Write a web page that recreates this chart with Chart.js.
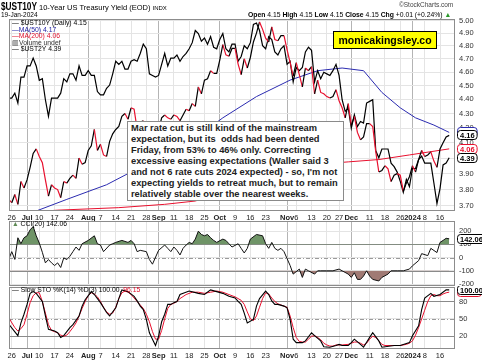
<!DOCTYPE html>
<html>
<head>
<meta charset="utf-8">
<script src="https://cdn.jsdelivr.net/npm/chart.js@4.4.1/dist/chart.umd.min.js"></script>
<style>
  body { margin: 0; width: 482px; height: 362px; overflow: hidden; position: relative; background: #fff;
         font-family: "Liberation Sans", Arial, sans-serif; }
  canvas { position: absolute; left: 0; }
  .t { position: absolute; white-space: nowrap; color: #000; line-height: 1; }
  .note { position: absolute; left: 127px; top: 121px; width: 217px; height: 80px; background: #fff;
          border: 1px solid #8a8a8a; font: bold 9.3px/11px "Liberation Sans", Arial, sans-serif; color: #222;
          padding: 1px 0 0 3px; box-sizing: border-box; white-space: nowrap; }
  .brand { position: absolute; left: 333px; top: 31px; width: 104px; height: 18px; background: #ffff00;
           border: 1px solid #000; box-sizing: border-box; font: bold 10.5px/16px "Liberation Sans", Arial, sans-serif;
           text-align: center; }
</style>
</head>
<body>
<canvas id="main" width="482" height="224" style="top:0"></canvas>
<canvas id="cci" width="482" height="66" style="top:220px"></canvas>
<canvas id="sto" width="482" height="76" style="top:286px"></canvas>

<div class="t" style="left:1px;top:1.5px;font-size:10px;font-weight:bold;transform:scaleX(0.83);transform-origin:0 0">$UST10Y</div>
<div class="t" style="left:39px;top:3.5px;font-size:7.5px">10-Year US Treasury Yield (EOD) <span style="font-size:6px">INDX</span></div>
<div class="t" style="left:1px;top:12px;font-size:6.5px">19-Jan-2024</div>
<div class="t" style="left:399px;top:2px;font-size:6.5px;color:#444">&copy;StockCharts.com</div>
<div class="t" style="left:248px;top:12px;font-size:6.8px"><b>Open</b> 4.15 <b>High</b> 4.15 <b>Low</b> 4.15 <b>Close</b> 4.15 <b>Chg</b> +0.01 (+0.24%) <span style="color:#2a9a2a">&#9650;</span></div>

<div class="t" style="left:12px;top:20px;font-size:6.8px">&mdash; $UST10Y (Daily) 4.15</div>
<div class="t" style="left:12px;top:26.5px;font-size:6.8px;color:#1c1ca0">&mdash;MA(50) 4.17</div>
<div class="t" style="left:12px;top:33px;font-size:6.8px;color:#e0102c">&mdash;MA(200) 4.06</div>
<div class="t" style="left:12px;top:39.5px;font-size:6.8px;color:#333">&#9637;Volume undef</div>
<div class="t" style="left:12px;top:46px;font-size:6.8px">&mdash; $UST2Y 4.39</div>

<div class="brand">monicakingsley.co</div>
<div class="note">Mar rate cut is still kind of the mainstream<br>expectation, but its&nbsp; odds had been dented<br>Friday, from 53% to 46% only. Correcting<br>excessive easing expectations (Waller said 3<br>and not 6 rate cuts 2024 expected) - so, I'm not<br>expecting yields to retreat much, but to remain<br>relatively stable over the nearest weeks.</div>

<div class="t" style="left:12px;top:221px;font-size:6.8px"><span style="color:#5f8a55">&#9650;</span> CCI(20) 142.06</div>
<div class="t" style="left:12px;top:287px;font-size:6.8px">&mdash; Slow STO %K(14) %D(3) 100.00, <span style="color:#e0102c">96.15</span></div>

<script>
// trading-day index: 0 = Jul 3 2023, first point = Jun 23 (-6), last = Jan 19 2024 (138)
const firstIdx = -6;

const tickIdx = [-5, 0, 4, 9, 14, 20, 24, 29, 34, 39, 43, 48, 53, 58, 63, 68, 73, 78, 85, 88, 93, 98, 102, 106, 112, 117, 122, 126, 130, 135];
const tickLabels = ['26', 'Jul', '10', '17', '24', 'Aug', '7', '14', '21', '28', 'Sep', '11', '18', '25', 'Oct', '9', '16', '23', 'Nov', '6', '13', '20', '27', 'Dec', '11', '18', '26', '2024', '8', '16'];
const monthLabels = ['Jul', 'Aug', 'Sep', 'Oct', 'Nov', 'Dec', '2024'];

const yieldTicks = [3.7, 3.8, 3.9, 4.0, 4.1, 4.2, 4.3, 4.4, 4.5, 4.6, 4.7, 4.8, 4.9, 5.0];

// $UST10Y daily close
const ust10 = [
  3.74, 3.72, 3.77, 3.71, 3.85, 3.81,
  3.86, 3.94, 4.03, 4.06, 4.01, 3.97, 3.86, 3.76, 3.83, 3.81, 3.80, 3.75, 3.85, 3.84,
  3.87, 3.89, 3.87, 4.00, 3.96, 3.97, 4.05, 4.08, 4.19, 4.05, 4.09, 4.02, 4.01, 4.11,
  4.16, 4.19, 4.21, 4.28, 4.30, 4.26, 4.34, 4.33, 4.19, 4.24, 4.25, 4.20, 4.12, 4.12,
  4.11, 4.18, 4.27, 4.29, 4.27, 4.26, 4.29, 4.28, 4.25, 4.29, 4.33, 4.32, 4.37, 4.35,
  4.49, 4.44, 4.54, 4.55, 4.61, 4.59, 4.59, 4.69, 4.81, 4.73, 4.72, 4.78, 4.78, 4.66,
  4.58, 4.70, 4.63, 4.71, 4.83, 4.90, 4.99, 4.93, 4.86, 4.83, 4.95, 4.85, 4.84, 4.88,
  4.88, 4.77, 4.67, 4.57, 4.67, 4.58, 4.49, 4.63, 4.61, 4.64, 4.44, 4.54, 4.45, 4.44,
  4.42, 4.41, 4.42, 4.47, 4.39, 4.34, 4.27, 4.37, 4.22, 4.28, 4.17, 4.12, 4.14, 4.23,
  4.23, 4.21, 4.04, 3.91, 3.92, 3.95, 3.93, 3.85, 3.89, 3.90, 3.89, 3.79, 3.84, 3.88,
  3.95, 3.91, 3.99, 4.05, 4.01, 4.02, 4.04, 3.98, 3.94, 4.06, 4.10, 4.14, 4.15
];

// $UST2Y overlay (own scale)
const ust2 = [
  4.74, 4.74, 4.77, 4.71, 4.87, 4.87,
  4.94, 4.94, 4.99, 4.94, 4.85, 4.86, 4.73, 4.63, 4.74, 4.74, 4.74, 4.77, 4.86, 4.84,
  4.89, 4.89, 4.85, 4.94, 4.88, 4.88, 4.91, 4.88, 4.88, 4.78, 4.76, 4.76, 4.80, 4.82,
  4.89, 4.97, 4.95, 4.97, 4.92, 4.92, 4.97, 4.98, 4.97, 5.02, 5.08, 5.05, 4.89, 4.88,
  4.87, 4.88, 4.95, 5.02, 4.94, 4.99, 4.99, 5.01, 4.97, 5.00, 5.02, 5.05, 5.09, 5.17,
  5.15, 5.10, 5.12, 5.08, 5.13, 5.06, 5.05, 5.11, 5.15, 5.05, 5.03, 5.08, 5.08, 4.97,
  5.00, 5.07, 5.05, 5.09, 5.21, 5.22, 5.17, 5.07, 5.05, 5.13, 5.11, 5.03, 5.01, 5.05,
  5.07, 4.95, 4.97, 4.84, 4.93, 4.91, 4.93, 5.03, 5.06, 5.04, 4.84, 4.91, 4.86, 4.90,
  4.89, 4.88, 4.91, 4.95, 4.88, 4.73, 4.66, 4.68, 4.56, 4.64, 4.57, 4.60, 4.59, 4.71,
  4.72, 4.73, 4.43, 4.39, 4.44, 4.44, 4.44, 4.36, 4.34, 4.31, 4.26, 4.20, 4.27, 4.23,
  4.33, 4.33, 4.38, 4.40, 4.36, 4.36, 4.36, 4.25, 4.14, 4.22, 4.35, 4.36, 4.39
];

// moving averages read at sparse days [index, value]
const ma50 = [[3, 3.67], [13, 3.74], [26, 3.83], [33, 3.90], [43, 3.98], [53, 4.10], [64, 4.27], [75, 4.42],
  [86, 4.54], [95, 4.61], [103, 4.63], [110, 4.61], [116, 4.45], [122, 4.34], [127, 4.27], [133, 4.22], [138, 4.17]];
const ma200 = [[-6, 3.655], [10, 3.675], [30, 3.69], [45, 3.71], [55, 3.73], [70, 3.82], [85, 3.92], [95, 3.96],
  [105, 3.975], [115, 3.99], [125, 4.02], [138, 4.06]];

// CCI(20)
const cci = [[-6, -14], [-5, 45], [-4, -14], [-3, 150], [-2, 105], [-1, 150], [0, 165], [1, 210], [2, 235], [3, 165],
  [4, 110], [5, 40], [6, -40], [7, -15], [8, -40], [9, -60], [10, -40], [11, -75], [12, -2], [13, -15], [14, 10],
  [15, 45], [16, 80], [17, 55], [18, 105], [20, 130], [22, 165], [23, 105], [24, 95], [25, 45], [27, 95], [28, 105],
  [29, 115], [31, 130], [33, 115], [34, 130], [35, 105], [36, 45], [37, 55], [39, 45], [40, -15], [41, -50], [43, 55],
  [45, 95], [46, 70], [47, 45], [48, 80], [49, 55], [50, 20], [51, 70], [52, 95], [53, 115], [54, 105], [55, 140],
  [56, 200], [57, 175], [58, 165], [59, 175], [60, 150], [61, 130], [62, 115], [64, 140], [65, 130], [66, 105],
  [67, 80], [69, 105], [70, 70], [71, 35], [72, 70], [73, 140], [75, 175], [77, 165], [78, 105], [79, 70], [80, 115],
  [81, 70], [82, 55], [83, 70], [84, 45], [86, -60], [87, -125], [89, -87], [90, -150], [91, -87], [92, -100],
  [94, -125], [95, -100], [96, -100], [98, -100], [100, -100], [102, -87], [103, -100], [105, -125], [106, -150],
  [107, -115], [108, -165], [109, -165], [110, -140], [111, -100], [112, -140], [113, -165], [115, -177], [116, -150],
  [118, -125], [119, -100], [121, -100], [123, -100], [125, -87], [126, -62], [128, -23], [129, 30], [131, 15],
  [132, 70], [134, 38], [135, 115], [136, 130], [137, 146], [138, 142]];

// Slow stochastic %K and %D
const stoK = [[-6, 41], [-3, 21], [-2, 43], [-1, 58], [0, 75], [1, 94], [2, 97], [3, 94], [5, 80], [6, 55], [7, 32],
  [9, 29], [10, 26], [11, 18], [12, 21], [14, 35], [15, 40], [17, 55], [18, 72], [19, 83], [21, 97], [22, 92], [24, 78],
  [26, 61], [27, 55], [29, 69], [30, 85], [31, 100], [33, 97], [35, 89], [36, 81], [37, 72], [38, 66], [39, 49],
  [40, 26], [41, 15], [42, 4], [43, 20], [44, 45], [45, 58], [46, 75], [47, 75], [48, 78], [49, 80], [50, 92], [53, 98],
  [56, 94], [58, 92], [60, 100], [62, 97], [64, 94], [66, 89], [68, 86], [69, 80], [70, 75], [71, 60], [72, 43],
  [74, 49], [75, 72], [76, 85], [78, 98], [79, 92], [80, 81], [81, 75], [82, 75], [84, 72], [85, 69], [86, 49],
  [87, 15], [88, 9], [90, 9], [91, 12], [93, 26], [94, 21], [96, 12], [97, 2], [99, 1], [101, 4], [102, 6], [103, 4],
  [105, 4], [106, 9], [107, 15], [109, 6], [110, 1], [112, 18], [113, 26], [115, 12], [116, 1], [120, 4], [122, 4],
  [125, 9], [126, 21], [128, 38], [129, 66], [130, 86], [132, 94], [133, 89], [135, 92], [137, 100], [138, 100]];
const stoD = [[-6, 52], [-4, 35], [-3, 29], [-2, 33], [-1, 40], [0, 58], [1, 78], [2, 90], [3, 95], [4, 95], [5, 80],
  [6, 60], [7, 40], [8, 30], [9, 28], [10, 26], [11, 22], [12, 20], [13, 22], [14, 28], [15, 35], [16, 43], [17, 55],
  [18, 68], [19, 80], [20, 90], [21, 95], [22, 93], [23, 88], [24, 80], [25, 70], [26, 62], [27, 58], [28, 60],
  [29, 70], [30, 85], [31, 95], [32, 98], [33, 96], [34, 92], [35, 86], [36, 80], [37, 74], [38, 68], [39, 58],
  [40, 45], [41, 28], [42, 15], [43, 15], [44, 30], [45, 50], [46, 68], [47, 75], [48, 77], [49, 80], [50, 85],
  [52, 92], [54, 96], [56, 96], [58, 94], [60, 96], [62, 98], [64, 96], [66, 92], [68, 88], [70, 82], [71, 75],
  [72, 62], [73, 50], [74, 47], [75, 55], [76, 70], [77, 85], [78, 95], [79, 93], [80, 86], [81, 80], [82, 76],
  [83, 74], [84, 72], [85, 70], [86, 55], [87, 35], [88, 18], [89, 11], [90, 10], [91, 10], [92, 15], [93, 20],
  [94, 21], [95, 18], [96, 14], [97, 8], [98, 5], [99, 3], [100, 3], [101, 5], [103, 5], [105, 6], [106, 8], [107, 10],
  [108, 10], [109, 8], [110, 5], [111, 8], [112, 15], [113, 20], [114, 18], [115, 12], [116, 6], [117, 4], [120, 4],
  [122, 4], [124, 6], [125, 8], [126, 12], [127, 22], [128, 35], [129, 50], [130, 65], [131, 80], [132, 90],
  [133, 92], [134, 90], [135, 90], [136, 93], [137, 95], [138, 96.15]];

Chart.defaults.font.family = '"Liberation Sans", Arial, sans-serif';
Chart.defaults.font.size = 7.5;
Chart.defaults.color = '#333';

const RED = '#e8102e';
const toXY = arr => arr.map((v, i) => ({ x: firstIdx + i, y: v }));
const pairs = arr => arr.map(p => ({ x: p[0], y: p[1] }));

// panel frame, reference lines and right-hand value tags
const deco = {
  id: 'deco',
  beforeDatasetsDraw(chart, args, o) {
    const { ctx, chartArea: a } = chart;
    const ys = chart.scales.y;
    (o.lines || []).forEach(l => {
      const y = Math.round(ys.getPixelForValue(l.v)) + 0.5;
      ctx.save();
      ctx.strokeStyle = l.c;
      ctx.lineWidth = 1;
      ctx.setLineDash(l.d || []);
      ctx.beginPath();
      ctx.moveTo(a.left, y);
      ctx.lineTo(a.right, y);
      ctx.stroke();
      ctx.restore();
    });
  },
  afterDraw(chart, args, o) {
    const { ctx, chartArea: a } = chart;
    ctx.save();
    ctx.strokeStyle = '#8c8c8c';
    ctx.lineWidth = 1;
    ctx.strokeRect(a.left + 0.5, a.top + 0.5, a.right - a.left - 1, a.bottom - a.top - 1);
    (o.boxes || []).forEach(b => {
      const y = Math.round(chart.scales[b.axis || 'y'].getPixelForValue(b.v));
      ctx.font = 'bold 7.5px "Liberation Sans", Arial, sans-serif';
      const w = ctx.measureText(b.t).width + 5;
      const x = a.right + 2;
      ctx.beginPath();
      ctx.roundRect(x + 0.5, y - 4.5, w, 9, 3);
      ctx.fillStyle = '#fff';
      ctx.fill();
      ctx.strokeStyle = b.c;
      ctx.stroke();
      ctx.fillStyle = b.c;
      ctx.fillText(b.t, x + 3, y + 3);
    });
    ctx.restore();
  }
};
Chart.register(deco);

function xScale(showLabels) {
  return {
    type: 'linear', min: -5.9, max: 139.9,
    afterBuildTicks: s => { s.ticks = tickIdx.map(v => ({ value: v })); },
    afterFit: s => { s.height = showLabels ? 13 : 0; s.paddingLeft = 0; s.paddingRight = 0; },
    ticks: {
      display: showLabels, autoSkip: false, maxRotation: 0, padding: 2, color: '#222',
      callback: (v, i) => tickLabels[i],
      font: c => ({ size: 7.5, weight: monthLabels.includes(tickLabels[c.index]) ? 'bold' : 'normal' })
    },
    grid: {
      drawTicks: false,
      color: c => monthLabels.includes(tickLabels[c.index]) ? '#b4b4b4' : '#e4e4e4'
    },
    border: { display: false }
  };
}

function yScale(min, max, ticks, fmt) {
  return {
    position: 'right', min: min, max: max,
    afterBuildTicks: s => { s.ticks = ticks.map(v => ({ value: v })); },
    afterFit: s => { s.width = 27; s.paddingTop = 0; s.paddingBottom = 0; },
    ticks: { padding: 4, color: '#333', callback: fmt },
    grid: { drawTicks: false, color: '#e4e4e4' },
    border: { display: false }
  };
}

const base = {
  responsive: false, animation: false, events: [],
  elements: { point: { radius: 0 }, line: { tension: 0 } }
};

// price panel
new Chart(document.getElementById('main'), {
  type: 'line',
  data: {
    datasets: [
      { data: toXY(ust10), borderColor: '#000', borderWidth: 1.2,
        segment: { borderColor: c => c.p1.parsed.y < c.p0.parsed.y ? RED : '#000' } },
      { data: toXY(ust2), yAxisID: 'y2', borderColor: '#000', borderWidth: 1.2 },
      { data: pairs(ma50), borderColor: '#2b2bb0', borderWidth: 1 },
      { data: pairs(ma200), borderColor: RED, borderWidth: 1 }
    ]
  },
  options: {
    ...base,
    layout: { padding: { top: 19, left: 9, right: 0, bottom: 0 } },
    plugins: {
      legend: { display: false }, tooltip: { enabled: false },
      deco: { boxes: [
        { v: 4.17, t: '4.17', c: '#2b2bb0' },
        { v: 4.15, t: '4.16', c: '#000' },
        { v: 4.06, t: '4.06', c: RED },
        { v: 4.39, t: '4.39', c: '#000', axis: 'y2' }
      ] }
    },
    scales: {
      x: xScale(true),
      y: { ...yScale(3.67, 5.014, yieldTicks, v => v.toFixed(2)), type: 'logarithmic' },
      y2: { type: 'logarithmic', display: false, min: 4.101, max: 5.247 }
    }
  }
});

// CCI panel
new Chart(document.getElementById('cci'), {
  type: 'line',
  data: {
    datasets: [
      { data: pairs(cci), borderColor: '#111', borderWidth: 1,
        fill: { target: { value: 100 }, above: '#6f9467', below: 'rgba(0,0,0,0)' } },
      { data: pairs(cci), borderColor: 'rgba(0,0,0,0)', borderWidth: 0,
        fill: { target: { value: -100 }, above: 'rgba(0,0,0,0)', below: '#a07a74' } }
    ]
  },
  options: {
    ...base,
    layout: { padding: { top: 1, left: 9, right: 0, bottom: 0 } },
    plugins: {
      legend: { display: false }, tooltip: { enabled: false },
      deco: {
        lines: [{ v: 100, c: '#8a8a8a' }, { v: -100, c: '#8a8a8a' }, { v: 0, c: '#9a9a9a', d: [4, 2, 1, 2] }],
        boxes: [{ v: 142.06, t: '142.06', c: '#000' }]
      }
    },
    scales: {
      x: xScale(false),
      y: yScale(-215, 277, [-200, -100, 0, 100, 200], v => String(v))
    }
  }
});

// Slow stochastic panel
new Chart(document.getElementById('sto'), {
  type: 'line',
  data: {
    datasets: [
      { data: pairs(stoK), borderColor: '#000', borderWidth: 1.1 },
      { data: pairs(stoD), borderColor: RED, borderWidth: 1 }
    ]
  },
  options: {
    ...base,
    layout: { padding: { top: 1, left: 9, right: 0, bottom: 0 } },
    plugins: {
      legend: { display: false }, tooltip: { enabled: false },
      deco: {
        lines: [{ v: 80, c: '#8a8a8a' }, { v: 20, c: '#8a8a8a' }, { v: 50, c: '#9a9a9a', d: [4, 2, 1, 2] }],
        boxes: [{ v: 96.15, t: '96.15', c: RED }, { v: 100, t: '100.00', c: '#000' }]
      }
    },
    scales: {
      x: xScale(true),
      y: yScale(-2, 105, [20, 50, 80], v => String(v))
    }
  }
});
</script>
</body>
</html>
